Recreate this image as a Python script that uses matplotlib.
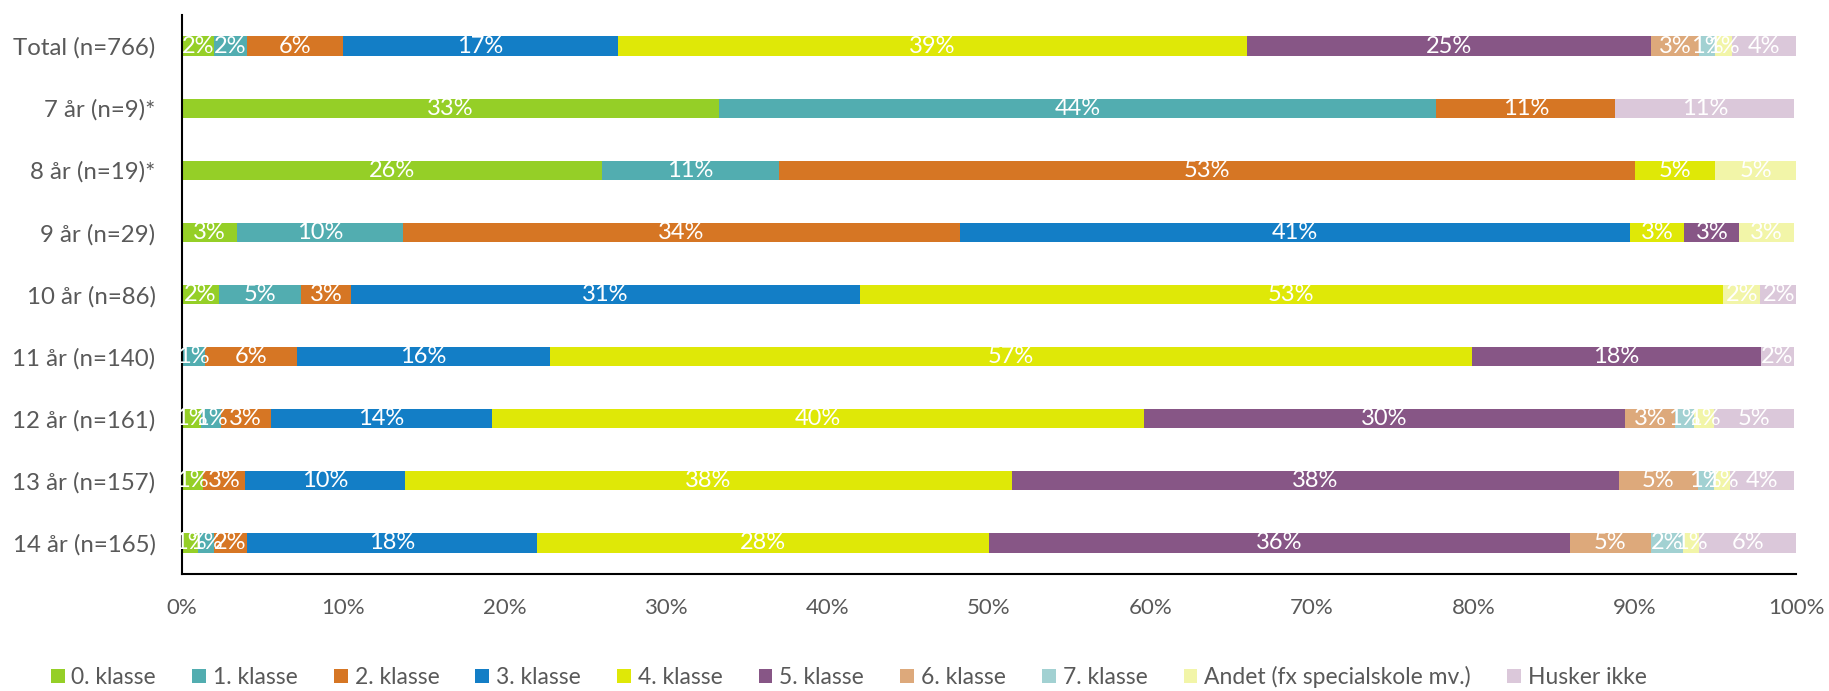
import matplotlib.pyplot as plt
import numpy as np

plt.rcParams['font.family'] = ['Lato', 'DejaVu Sans']

# Rows (top to bottom)
groups = ['Total (n=766)', '7 år (n=9)*', '8 år (n=19)*', '9 år (n=29)', '10 år (n=86)',
          '11 år (n=140)', '12 år (n=161)', '13 år (n=157)', '14 år (n=165)']

series = ['0. klasse', '1. klasse', '2. klasse', '3. klasse', '4. klasse',
          '5. klasse', '6. klasse', '7. klasse', 'Andet (fx specialskole mv.)', 'Husker ikke']

# percentages per series, one value per row
klasse0 = [2.0, 33.3, 26.0, 3.4, 2.3, 0.0, 1.2, 1.3, 1.0]
klasse1 = [2.0, 44.4, 11.0, 10.3, 5.1, 1.4, 1.2, 0.0, 1.0]
klasse2 = [6.0, 11.1, 53.0, 34.49, 3.1, 5.7, 3.1, 2.6, 2.0]
klasse3 = [17.0, 0.0, 0.0, 41.49, 31.49, 15.7, 13.7, 9.9, 18.0]
klasse4 = [39.0, 0.0, 5.0, 3.4, 53.49, 57.1, 40.4, 37.6, 28.0]
klasse5 = [25.0, 0.0, 0.0, 3.4, 0.0, 17.9, 29.8, 37.6, 36.0]
klasse6 = [3.0, 0.0, 0.0, 0.0, 0.0, 0.0, 3.1, 4.9, 5.0]
klasse7 = [1.0, 0.0, 0.0, 0.0, 0.0, 0.0, 1.2, 1.0, 2.0]
andet = [1.0, 0.0, 5.0, 3.4, 2.3, 0.0, 1.2, 1.0, 1.0]
husker = [4.0, 11.1, 0.0, 0.0, 2.3, 2.1, 5.0, 4.0, 6.0]

values = [klasse0, klasse1, klasse2, klasse3, klasse4, klasse5, klasse6, klasse7, andet, husker]
colors = ['#95CF27', '#52ADB0', '#D67624', '#137EC6', '#DFE807',
          '#875686', '#DDA97B', '#A2D1D2', '#F2F5A8', '#DBC8DA']

grey = '#595959'

fig = plt.figure(figsize=(18.29, 6.91), dpi=100)
ax = fig.add_axes([0.0995, 0.1693, 0.8825, 0.809])

y = np.arange(len(groups))
left = np.zeros(len(groups))
for name, vals, col in zip(series, values, colors):
    vals = np.array(vals)
    bars = ax.barh(y, vals, left=left, height=0.31, color=col, label=name)
    for rect, v in zip(bars, vals):
        if v > 0:
            ax.text(rect.get_x() + rect.get_width() / 2, rect.get_y() + rect.get_height() / 2,
                    '%d%%' % round(v), ha='center', va='center', color='white', fontsize=17)
    left += vals

ax.set_xlim(0, 100)
ax.set_ylim(8.5, -0.5)
ax.set_yticks(y)
ax.set_yticklabels(groups)
ax.set_xticks(np.arange(0, 101, 10))
ax.set_xticklabels(['%d%%' % t for t in range(0, 101, 10)])
ax.tick_params(axis='y', length=0, pad=19, labelsize=17.3, labelcolor=grey)
ax.tick_params(axis='x', length=0, pad=17, labelsize=16, labelcolor=grey)

for s in ['top', 'right']:
    ax.spines[s].set_visible(False)
for s in ['left', 'bottom']:
    ax.spines[s].set_color('black')
    ax.spines[s].set_linewidth(1.5)

fig.legend(loc='center', bbox_to_anchor=(0.464, 0.02), ncol=10, frameon=False,
           fontsize=16.5, labelcolor=grey, handlelength=0.6, handleheight=0.6,
           handletextpad=0.3, columnspacing=1.58)

fig.savefig('out.png', dpi=100)
